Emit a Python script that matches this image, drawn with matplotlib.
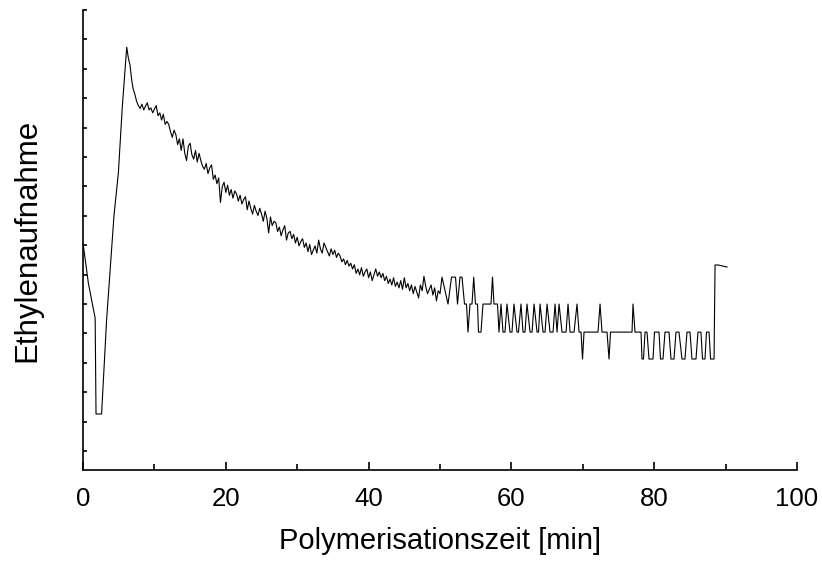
import numpy as np
import matplotlib.pyplot as plt
from matplotlib.ticker import MultipleLocator

plt.rcParams['font.family'] = ['Liberation Sans', 'DejaVu Sans']

# start of the run: pressure drop and first peak (time in min, uptake in arb. units)
t_start = [0.0, 0.75, 1.70, 1.82, 2.60, 3.30, 4.34, 4.95, 5.50, 6.12, 6.35, 6.58, 6.82]
v_start = [6.95, 5.56, 4.35, 1.04, 1.04, 4.28, 7.91, 9.37, 11.65, 13.72, 13.34, 13.10, 12.58]

# noisy decay, one reading every 15 s from 7 min on
dt_noisy = 0.25
t0_noisy = 7.0
v_noisy = [
    12.30, 12.10, 11.85, 11.70,
    11.60, 11.75, 11.55, 11.68,
    11.80, 11.55, 11.62, 11.45,
    11.58, 11.70, 11.35, 11.45,
    11.20, 11.40, 11.05, 11.15,
    11.05, 10.80, 10.60, 10.85,
    10.70, 10.35, 10.55, 10.15,
    10.55, 10.05, 9.80, 10.30,
    10.40, 10.00, 9.85, 10.15,
    9.75, 10.05, 9.80, 9.60,
    9.50, 9.70, 9.35, 9.55,
    9.65, 9.15, 9.30, 9.00,
    9.20, 8.35, 8.90, 9.05,
    8.70, 8.95, 8.60, 8.80,
    8.50, 8.75, 8.65, 8.40,
    8.60, 8.30, 8.45, 8.55,
    8.10, 8.40, 8.15, 7.95,
    8.25, 8.05, 7.90, 8.15,
    7.95, 7.70, 8.05, 7.80,
    7.30, 7.85, 7.55, 7.70,
    7.65, 7.35, 7.50, 7.20,
    7.40, 7.55, 7.05, 7.30,
    7.35, 7.10, 7.25, 6.95,
    7.15, 6.85, 7.00, 7.10,
    6.80, 6.95, 6.65, 6.90,
    6.55, 6.70, 6.85, 6.60,
    7.05, 6.75, 6.60, 6.95,
    6.80, 6.65, 6.50, 6.75,
    6.55, 6.70, 6.45, 6.60,
    6.50, 6.30, 6.40, 6.20,
    6.35, 6.15, 6.25, 6.05,
    6.20, 5.90, 6.05, 5.85,
    6.10, 5.80, 5.95, 6.05,
    5.75, 5.95, 5.65, 5.85,
    6.05, 5.80, 5.95, 5.75,
    5.90, 5.65, 5.80, 5.55,
    5.70, 5.50, 5.75, 5.45,
    5.60, 5.40, 5.65, 5.35,
    5.75, 5.40, 5.55, 5.30,
    5.50, 5.20, 5.45, 5.25,
    5.05, 5.50, 5.30, 5.80,
    5.45, 5.20, 5.35, 5.50,
    5.15, 5.40, 4.95, 5.30,
    5.20,
]

# late part: the flow meter only resolves a few levels
A, B, C, D = 5.77, 4.84, 3.87, 2.94
t_steps = [50.28, 51.12, 51.61, 52.17, 52.45, 52.80, 53.08, 53.43, 53.71, 53.92,
           54.20, 54.48, 54.72, 54.97, 55.25, 55.39, 55.74, 56.02, 57.14, 57.35,
           57.56, 58.05, 58.26, 58.54, 58.82, 59.10, 59.38, 59.80, 60.08, 60.36,
           60.78, 60.99, 61.34, 61.62, 61.90, 62.18, 62.61, 62.89, 63.17, 63.59,
           63.80, 64.01, 64.43, 64.71, 64.99, 65.41, 65.83, 66.11, 66.39, 66.67,
           67.09, 67.65, 67.93, 68.21, 68.77, 69.19, 69.47, 69.75, 69.96, 70.17,
           72.13, 72.41, 72.69, 73.39, 73.67, 73.88, 76.89, 77.03, 77.31, 78.15,
           78.29, 78.50, 78.71, 78.99, 79.27, 79.83, 80.04, 80.67, 80.88, 81.23,
           81.51, 82.07, 82.35, 82.77, 83.05, 83.47, 83.89, 84.31, 84.59, 85.01,
           85.29, 85.85, 86.13, 86.55, 86.76, 87.11, 87.32, 87.68, 87.89, 88.38,
           88.52, 88.94, 90.20]
v_steps = [A, B, A, A, B, A, A, B, B, C,
           B, B, A, B, B, C, C, B, B, A,
           B, B, C, B, C, C, B, C, C, B,
           C, C, B, C, C, B, C, C, B, C,
           C, B, C, C, B, C, C, B, C, B,
           C, C, B, C, C, B, C, C, D, C,
           C, B, C, C, D, C, C, B, C, C,
           D, D, C, C, D, D, C, C, D, D,
           C, C, D, D, C, C, D, D, C, C,
           D, D, C, C, D, D, C, C, D, D,
           6.19, 6.19, 6.12]

t_noisy = t0_noisy + dt_noisy * np.arange(len(v_noisy))
t = np.concatenate([t_start, t_noisy, t_steps])
v = np.concatenate([v_start, v_noisy, v_steps])

fig = plt.figure(figsize=(8.22, 5.61), dpi=100)
ax = fig.add_axes([0.101, 0.162, 0.8686, 0.820])
ax.plot(t, v, color='black', lw=0.8)

ax.set_xlim(0, 100)
ax.set_ylim(-0.9, 15)
ax.xaxis.set_major_locator(MultipleLocator(20))
ax.xaxis.set_minor_locator(MultipleLocator(10))
ax.set_yticks(15 - np.arange(16) * 1.016)
ax.set_yticklabels([])

for s in ['top', 'right']:
    ax.spines[s].set_visible(False)
for s in ['left', 'bottom']:
    ax.spines[s].set_linewidth(1.2)

ax.tick_params(axis='x', which='major', direction='in', length=6, width=1.2,
               labelsize=18.5, pad=12)
ax.tick_params(axis='x', which='minor', direction='in', length=4, width=1.2)
ax.tick_params(axis='y', direction='in', length=3, width=1.2)

ax.set_xlabel('Polymerisationszeit [min]', fontsize=21, labelpad=12)
ax.set_ylabel('Ethylenaufnahme', fontsize=22.5, labelpad=26)

fig.savefig('out.png', dpi=100)
